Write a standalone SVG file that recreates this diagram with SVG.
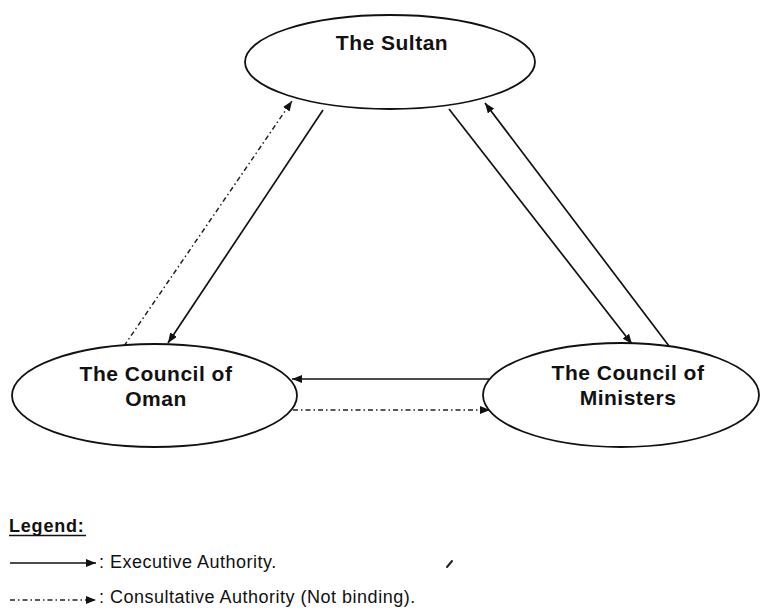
<svg xmlns="http://www.w3.org/2000/svg" width="761" height="613" viewBox="0 0 761 613">
  <style>
    .node { fill: #ffffff; stroke: #111111; stroke-width: 1.8; }
    .label { font-family: "Liberation Sans", Arial, sans-serif; font-weight: bold; font-size: 21px; letter-spacing: 0.5px; fill: #111111; text-anchor: middle; }
    .exec { stroke: #111111; stroke-width: 1.7; fill: none; marker-end: url(#head); }
    .consult { stroke: #222222; stroke-width: 1.5; fill: none; stroke-dasharray: 5 3 1.5 3; marker-end: url(#head); }
    .legend-title { font-family: "Liberation Sans", Arial, sans-serif; font-weight: bold; font-size: 18px; letter-spacing: 0.8px; fill: #111111; }
    .legend-text { font-family: "Liberation Sans", Arial, sans-serif; font-size: 18px; letter-spacing: 0.5px; fill: #111111; }
  </style>
  <defs>
    <marker id="head" markerUnits="userSpaceOnUse" markerWidth="11" markerHeight="8" refX="10" refY="4" orient="auto">
      <path d="M0,0 L10,4 L0,8 Z" fill="#111111"/>
    </marker>
  </defs>

  <rect width="761" height="613" fill="#ffffff"/>

  <!-- connectors -->
  <g id="connectors">
    <!-- Sultan to Council of Oman -->
    <line class="exec" x1="323" y1="110" x2="168" y2="343"/>
    <!-- Council of Oman to Sultan (consultative) -->
    <line class="consult" x1="124" y1="346" x2="292" y2="101"/>
    <!-- Sultan to Council of Ministers -->
    <line class="exec" x1="449" y1="109" x2="632" y2="344"/>
    <!-- Council of Ministers to Sultan -->
    <line class="exec" x1="669" y1="346" x2="485" y2="103"/>
    <!-- Council of Ministers to Council of Oman -->
    <line class="exec" x1="489" y1="379" x2="292" y2="379"/>
    <!-- Council of Oman to Council of Ministers (consultative) -->
    <line class="consult" x1="293" y1="410" x2="490" y2="410"/>
  </g>

  <g id="sultan">
    <ellipse class="node" cx="390" cy="62" rx="145" ry="47"/>
    <text class="label" x="392" y="50">The Sultan</text>
  </g>

  <g id="council-of-oman">
    <ellipse class="node" cx="154.5" cy="395.5" rx="142.5" ry="51.5"/>
    <text class="label" x="156" y="381">The Council of</text>
    <text class="label" x="156" y="406">Oman</text>
  </g>

  <g id="council-of-ministers">
    <ellipse class="node" cx="621" cy="395" rx="138" ry="52"/>
    <text class="label" x="628" y="380">The Council of</text>
    <text class="label" x="628" y="405">Ministers</text>
  </g>

  <g id="legend">
    <text class="legend-title" x="9" y="532">Legend:</text>
    <line x1="9" y1="535.5" x2="86" y2="535.5" stroke="#111111" stroke-width="1.6"/>
    <line class="exec" x1="10" y1="563" x2="96" y2="563"/>
    <text class="legend-text" x="99" y="568">: Executive Authority.</text>
    <line class="consult" x1="10" y1="600" x2="96" y2="600"/>
    <text class="legend-text" x="99" y="603">: Consultative Authority (Not binding).</text>
    <path d="M447,567 L452,561" stroke="#222222" stroke-width="2" stroke-linecap="round"/>
  </g>
</svg>
